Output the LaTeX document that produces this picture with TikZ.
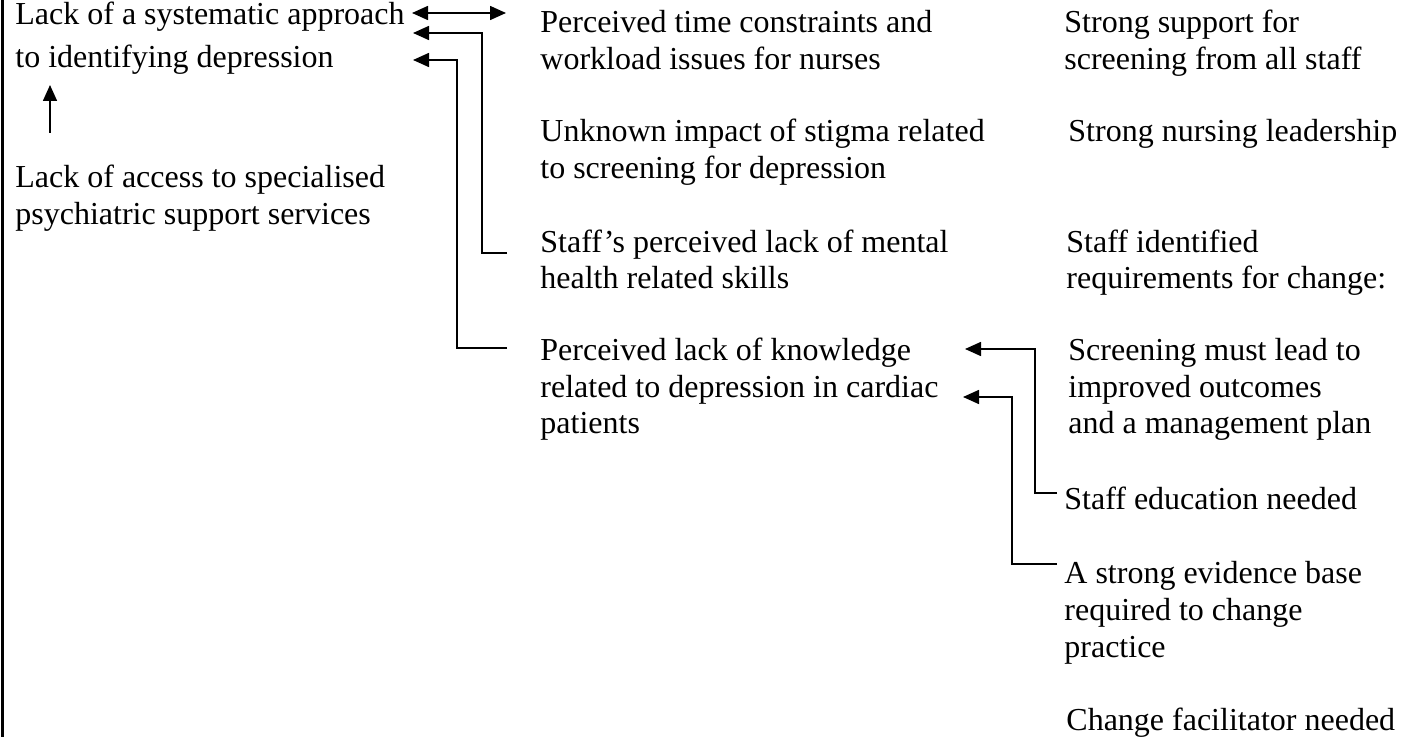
\documentclass[tikz,border=0pt]{standalone}
\usepackage{fontspec}
\setmainfont{Liberation Serif}
\usetikzlibrary{arrows.meta}
\begin{document}
\begin{tikzpicture}[x=0.5pt,y=-0.5pt,
  txt/.style={anchor=north west, inner sep=0pt, align=left, yshift=12.88pt,
    font=\fontsize{16pt}{18.4pt}\selectfont},
  link/.style={line width=0.8pt, line join=miter},
  tip/.tip={Triangle[length=8pt,width=7pt]},
  arr/.style={link, -tip},
  darr/.style={link, tip-tip}]
\useasboundingbox (0,0) rectangle (1409,737);
% left frame edge
\draw[line width=1.4pt] (2.5,0) -- (2.5,737);

% left column
\node[txt] (sys) at (15,24) {\strut Lack of a systematic approach\\[3.1pt]to identifying depression};
\node[txt] (access) at (15,187) {\strut Lack of access to specialised\\psychiatric support services};

% barriers
\node[txt] (time) at (540,32) {\strut Perceived time constraints and\\workload issues for nurses};
\node[txt] (stigma) at (540,141.4) {\strut Unknown impact of stigma related\\to screening for depression};
\node[txt] (skills) at (540,251.8) {\strut Staff’s perceived lack of mental\\health related skills};
\node[txt] (know) at (540,360) {\strut Perceived lack of knowledge\\related to depression in cardiac\\patients};

% enablers
\node[txt] (support) at (1064,32) {\strut Strong support for\\screening from all staff};
\node[txt] (lead) at (1068,141.4) {\strut Strong nursing leadership};
\node[txt] (reqs) at (1066,251.8) {\strut Staff identified\\requirements for change:};
\node[txt] (outc) at (1068,360) {\strut Screening must lead to\\improved outcomes\\and a management plan};
\node[txt] (educ) at (1064,509.4) {\strut Staff education needed};
\node[txt] (evid) at (1064,583) {\strut A strong evidence base\\required to change\\practice};
\node[txt] (facil) at (1066,730.2) {\strut Change facilitator needed};

% connector end points
\coordinate (sysA) at (412,13);
\coordinate (timeA) at (506,13);
\coordinate (sysB) at (413,33);
\coordinate (skillsE) at (507,253);
\coordinate (sysC) at (413,60);
\coordinate (knowE) at (507,348);
\coordinate (knowA) at (965,349);
\coordinate (educE) at (1057,493);
\coordinate (knowB) at (963,397);
\coordinate (evidE) at (1057,564);
\coordinate (accessT) at (50,133);
\coordinate (sysU) at (50,85);

\draw[darr] (sysA) -- (timeA);
\draw[arr] (skillsE) -- (482,253) -- (482,33) -- (sysB);
\draw[arr] (knowE) -- (457,348) -- (457,60) -- (sysC);
\draw[arr] (educE) -- (1035,493) -- (1035,349) -- (knowA);
\draw[arr] (evidE) -- (1012,564) -- (1012,397) -- (knowB);
\draw[arr] (accessT) -- (sysU);
\end{tikzpicture}
\end{document}
